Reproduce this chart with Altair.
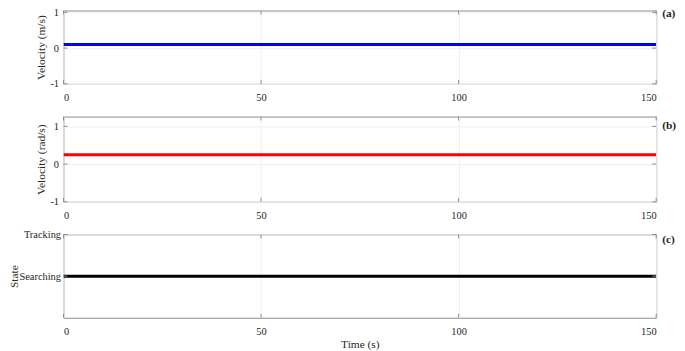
import altair as alt
import pandas as pd

# ---- data ----
time_s = [0, 150]
linear_velocity = [0.1, 0.1]      # m/s, panel (a)
angular_velocity = [0.25, 0.25]   # rad/s, panel (b)
state_levels = ["Searching", "Tracking"]
state_series = ["Searching", "Searching"]  # panel (c)

x_ticks = [0, 50, 100, 150]
vel_ticks = [-1, 0, 1]
state_ticks = [0, 1]
panel_tags = ["(a)", "(b)", "(c)"]

# ---- style ----
FONT = "Liberation Serif"
W = 598
AXIS_COLOR = "#8c8c8c"
TEXT_COLOR = "#262626"
GRID_COLOR = "#f0f0f0"
TICK_LEN = 4

x_scale = alt.Scale(domain=[0, 150], nice=False, zero=False)


def panel(df, color, y_domain, y_ticks, y_title, H, tag, tag_y, x_title,
          label_expr="'' + datum.value", title_pad=3, label_pad=5):
    y_scale = alt.Scale(domain=y_domain, nice=False, zero=False)
    y_axis = alt.Axis(values=y_ticks, title=y_title, grid=True, ticks=False, domain=False,
                      labelPadding=label_pad, titlePadding=title_pad, labelOverlap=False,
                      labelExpr=label_expr)
    x_axis = alt.Axis(values=x_ticks, title=x_title, grid=True, ticks=False,
                      domain=False, labelPadding=9, titlePadding=2, labelOverlap=False)
    line = alt.Chart(df).mark_line(color=color, strokeWidth=3, clip=True).encode(
        x=alt.X("t:Q", scale=x_scale, axis=x_axis),
        y=alt.Y("v:Q", scale=y_scale, axis=y_axis),
    )
    xt = pd.DataFrame({"t": x_ticks})
    yt = pd.DataFrame({"v": y_ticks})
    rule = dict(color=AXIS_COLOR, strokeWidth=1)
    xb = alt.Chart(xt).mark_rule(**rule).encode(
        x=alt.X("t:Q", scale=x_scale, axis=x_axis), y=alt.value(H), y2=alt.value(H - TICK_LEN))
    xtop = alt.Chart(xt).mark_rule(**rule).encode(
        x=alt.X("t:Q", scale=x_scale, axis=x_axis), y=alt.value(0), y2=alt.value(TICK_LEN))
    yl = alt.Chart(yt).mark_rule(**rule).encode(
        y=alt.Y("v:Q", scale=y_scale, axis=y_axis), x=alt.value(0), x2=alt.value(TICK_LEN))
    yr = alt.Chart(yt).mark_rule(**rule).encode(
        y=alt.Y("v:Q", scale=y_scale, axis=y_axis), x=alt.value(W - TICK_LEN), x2=alt.value(W))
    tag_layer = alt.Chart(pd.DataFrame({"tag": [tag]})).mark_text(
        align="left", baseline="middle", font=FONT, fontWeight="bold", fontSize=11.5,
        color=TEXT_COLOR).encode(x=alt.value(W + 6), y=alt.value(tag_y), text="tag:N")
    return alt.layer(line, xb, xtop, yl, yr, tag_layer).properties(width=W, height=H)


df_a = pd.DataFrame({"t": time_s, "v": linear_velocity})
df_b = pd.DataFrame({"t": time_s, "v": angular_velocity})
df_c = pd.DataFrame({"t": time_s, "v": [state_levels.index(s) for s in state_series]})

state_expr = "[" + ",".join(f"'{s}'" for s in state_levels) + "][datum.value]"

pa = panel(df_a, "#0000ff", [-1, 1.05], vel_ticks, "Velocity (m/s)", 74,
           panel_tags[0], 4, "")
pb = panel(df_b, "#ff0000", [-1, 1.26], vel_ticks, "Velocity (rad/s)", 86,
           panel_tags[1], 10, "")
pc = panel(df_c, "#000000", [-1, 1], state_ticks, "State", 84,
           panel_tags[2], 6, "Time (s)", label_expr=state_expr, title_pad=-1, label_pad=3)

chart = alt.vconcat(pa, pb, pc, spacing=33, bounds="flush").properties(
    padding={"top": -3, "left": 0, "right": 0, "bottom": 0}
).configure_view(stroke=AXIS_COLOR, strokeWidth=1).configure_axis(
    labelFont=FONT, titleFont=FONT, labelFontSize=10.5, titleFontSize=11.5,
    labelColor=TEXT_COLOR, titleColor=TEXT_COLOR, gridColor=GRID_COLOR,
    titleFontWeight="normal", labelOverlap=False
)

chart.save("out.html", embed_options={"renderer": "svg", "actions": False})
